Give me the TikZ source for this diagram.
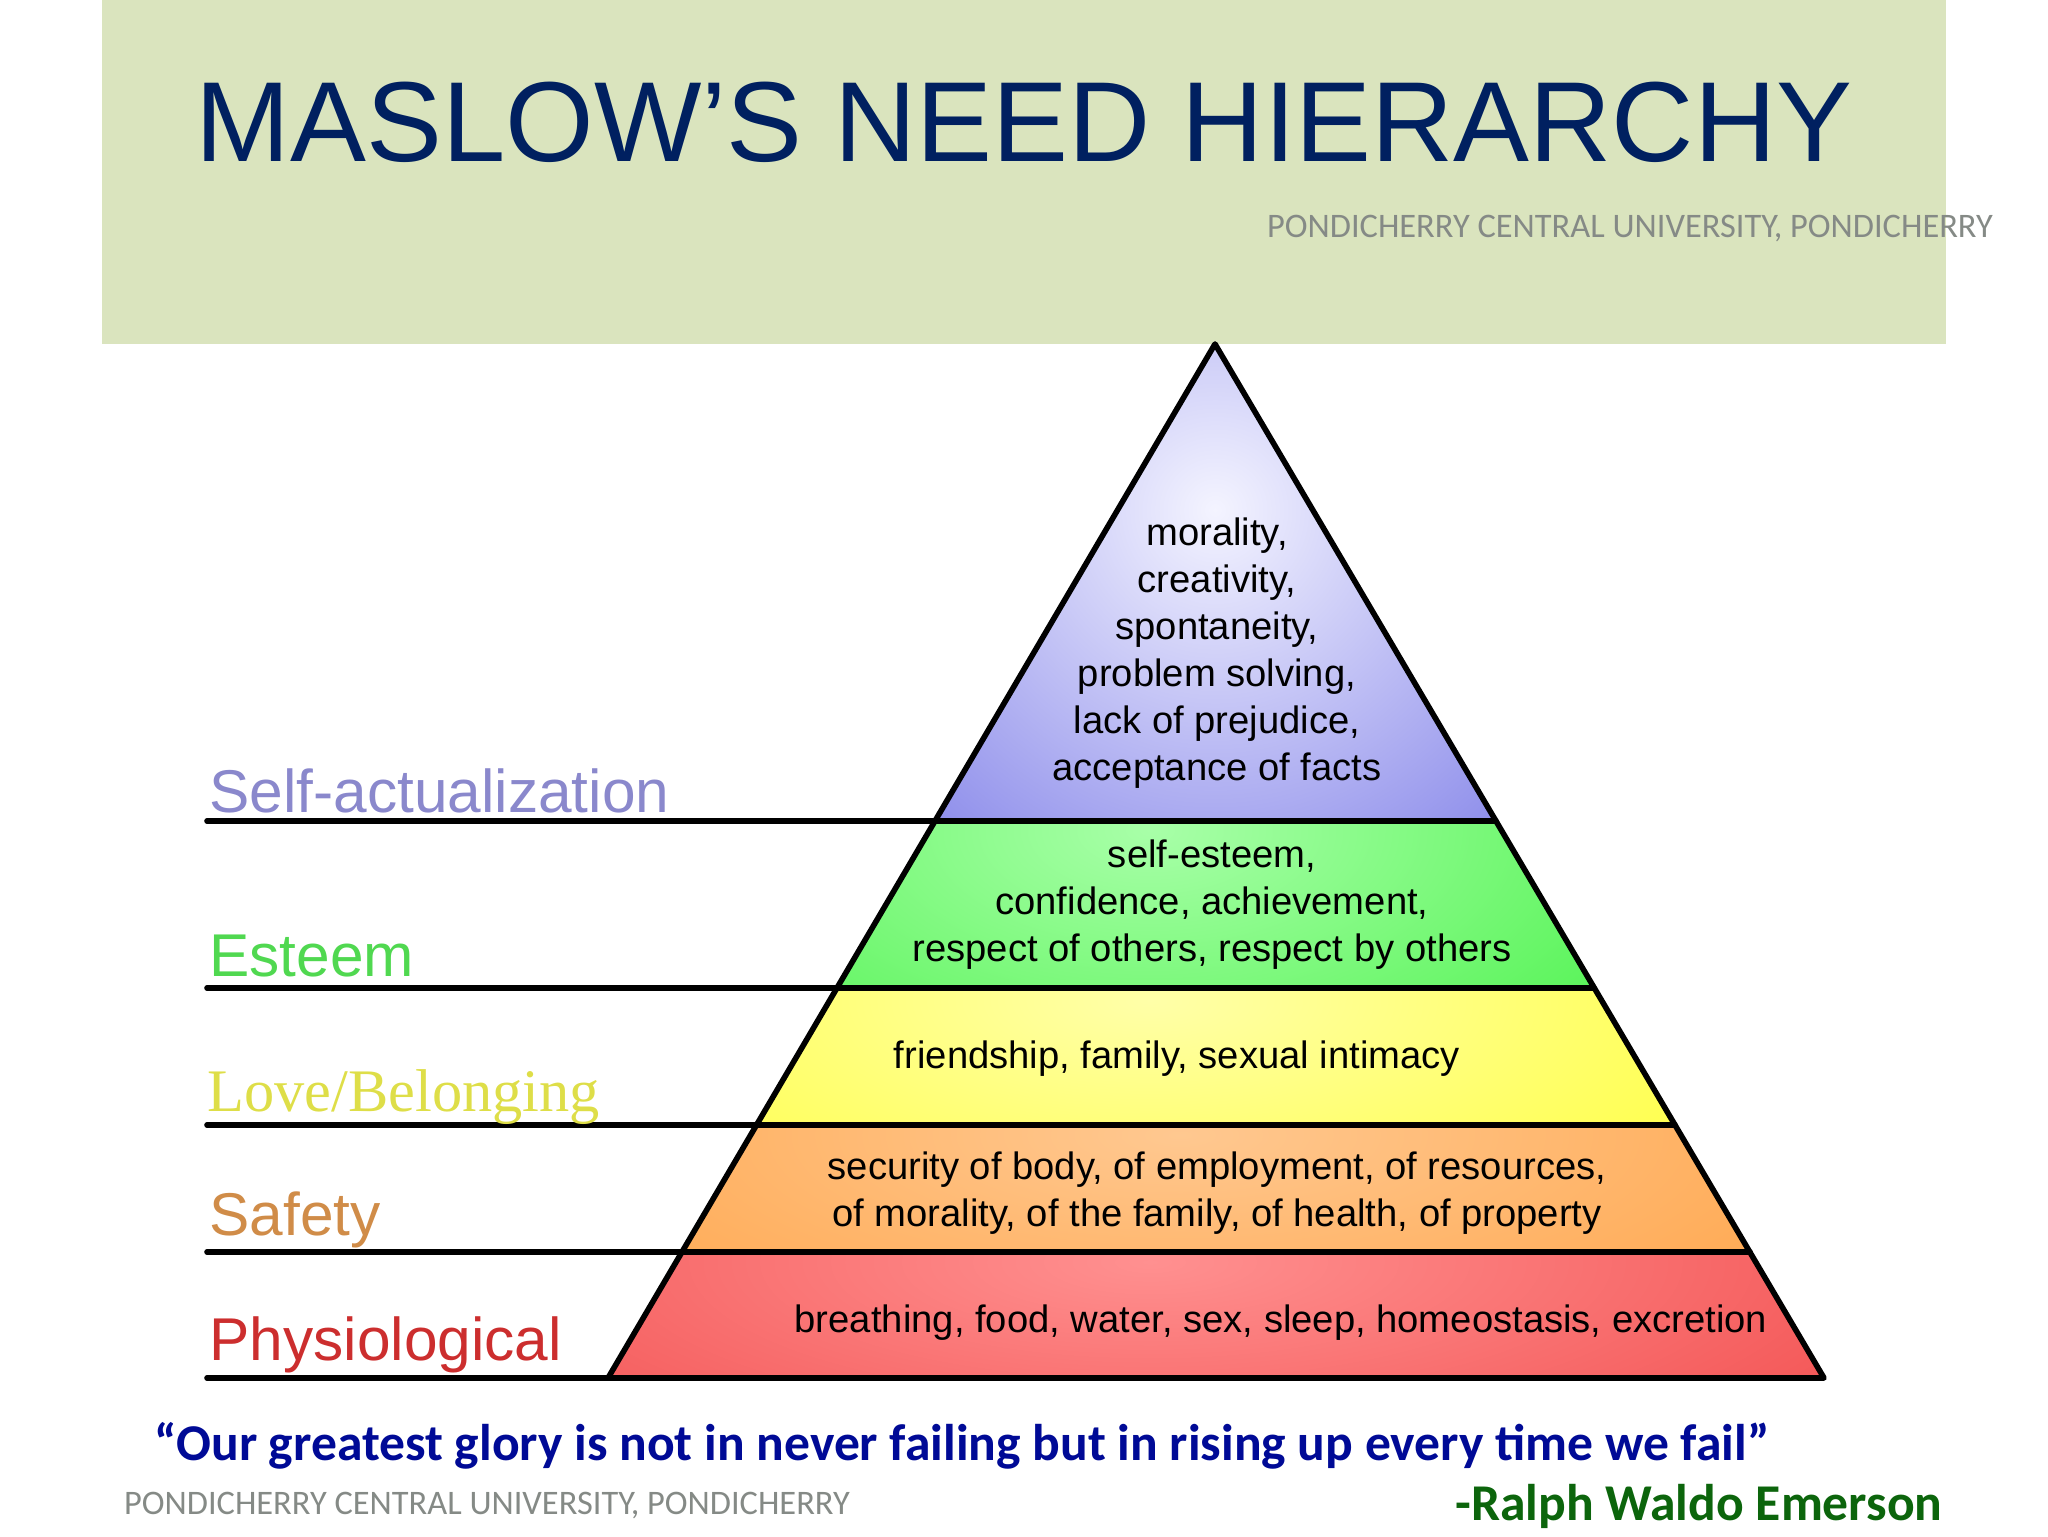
\documentclass[tikz,border=0pt]{standalone}
\usepackage{fontspec}
\setmainfont{Liberation Sans}
\newfontfamily\calibrifont{Carlito}
\newfontfamily\timesfont{Liberation Serif}
\definecolor{headgreen}{HTML}{DAE4BE}
\definecolor{titleblue}{HTML}{002060}
\definecolor{footgray}{HTML}{858A86}
\definecolor{quoteblue}{HTML}{000A96}
\definecolor{namegreen}{HTML}{0C650C}
\definecolor{tierblue}{HTML}{8A88CC}
\definecolor{tiergreen}{HTML}{50D850}
\definecolor{tieryellow}{HTML}{DEDE48}
\definecolor{tierorange}{HTML}{D08C48}
\definecolor{tierred}{HTML}{CC2E2E}
\definecolor{inblue}{HTML}{F4F4FF}
\definecolor{outblue}{HTML}{8080E8}
\definecolor{ingreen}{HTML}{A8FFA8}
\definecolor{outgreen}{HTML}{40F040}
\definecolor{inyellow}{HTML}{FFFFA8}
\definecolor{outyellow}{HTML}{FFFF30}
\definecolor{inorange}{HTML}{FFC890}
\definecolor{outorange}{HTML}{FFA040}
\definecolor{inred}{HTML}{FF9090}
\definecolor{outred}{HTML}{F04545}
\pgfdeclareradialshading{blueglow}{\pgfpoint{0bp}{0bp}}{color(0bp)=(inblue); color(14bp)=(outblue); color(50bp)=(outblue)}
\pgfdeclareradialshading{greenglow}{\pgfpoint{0bp}{0bp}}{color(0bp)=(ingreen); color(19bp)=(outgreen); color(50bp)=(outgreen)}
\pgfdeclareradialshading{yellowglow}{\pgfpoint{0bp}{0bp}}{color(0bp)=(inyellow); color(19bp)=(outyellow); color(50bp)=(outyellow)}
\pgfdeclareradialshading{orangeglow}{\pgfpoint{0bp}{0bp}}{color(0bp)=(inorange); color(19bp)=(outorange); color(50bp)=(outorange)}
\pgfdeclareradialshading{redglow}{\pgfpoint{0bp}{0bp}}{color(0bp)=(inred); color(19bp)=(outred); color(50bp)=(outred)}
\tikzset{
  level/.style={font=\fontsize{19.1}{23.5}\selectfont,align=center,inner sep=0pt},
  tier/.style={font=\fontsize{30.2}{36}\selectfont,anchor=base west,inner sep=0pt},
  foot/.style={font=\calibrifont\fontsize{17.2}{20}\selectfont,text=footgray,anchor=base,inner sep=0pt},
  rule/.style={line width=2.8pt,line cap=round,line join=round}
}
\begin{document}
\begin{tikzpicture}
  [x=0.5pt,y=-0.5pt]
  \useasboundingbox (0,0) rectangle (2048,1536);
  \fill[headgreen] (102,0) rectangle (1946,344);
  \node[font=\fontsize{56.9}{60}\selectfont,text=titleblue,anchor=base,inner sep=0pt] (title) at (1024,161) {MASLOW’S NEED HIERARCHY};
  \node[foot] (foottop) at (1630,237) {PONDICHERRY CENTRAL UNIVERSITY, PONDICHERRY};

  \coordinate (apex) at (1215,344);
  \coordinate (la) at (935,821);
  \coordinate (ra) at (1496,821);
  \coordinate (lb) at (837,988);
  \coordinate (rb) at (1594,988);
  \coordinate (lc) at (757,1125);
  \coordinate (rc) at (1675,1125);
  \coordinate (ld) at (682,1252);
  \coordinate (rd) at (1750,1252);
  \coordinate (le) at (608,1378);
  \coordinate (re) at (1824,1378);

  % bands
  \begin{scope}
    \clip (apex) -- (ra) -- (la) -- cycle;
    \shade[shading=blueglow] (1215,510) ellipse [x radius=860,y radius=860];
  \end{scope}
  \begin{scope}
    \clip (la) -- (ra) -- (rb) -- (lb) -- cycle;
    \shade[shading=greenglow] (1150,830) ellipse [x radius=960,y radius=500];
  \end{scope}
  \begin{scope}
    \clip (lb) -- (rb) -- (rc) -- (lc) -- cycle;
    \shade[shading=yellowglow] (1150,1000) ellipse [x radius=1120,y radius=440];
  \end{scope}
  \begin{scope}
    \clip (lc) -- (rc) -- (rd) -- (ld) -- cycle;
    \shade[shading=orangeglow] (1180,1135) ellipse [x radius=1240,y radius=400];
  \end{scope}
  \begin{scope}
    \clip (ld) -- (rd) -- (re) -- (le) -- cycle;
    \shade[shading=redglow] (1150,1262) ellipse [x radius=1400,y radius=420];
  \end{scope}

  \draw[rule] (apex) -- (re) -- (le) -- cycle;
  \draw[rule] (207,821) -- (ra);
  \draw[rule] (207,988) -- (rb);
  \draw[rule] (207,1125) -- (rc);
  \draw[rule] (207,1252) -- (rd);
  \draw[rule] (207,1378) -- (le);

  \node[level] (selfact) at (1217,653) {morality,\\creativity,\\spontaneity,\\problem solving,\\lack of prejudice,\\acceptance of facts};
  \node[level] (esteem) at (1212,905) {self-esteem,\\confidence, achievement,\\respect of others, respect by others};
  \node[level] (love) at (1177,1059) {friendship, family, sexual intimacy};
  \node[level] (safety) at (1217,1193) {security of body, of employment, of resources,\\of morality, of the family, of health, of property};
  \node[level] (physio) at (1281,1323) {breathing, food, water, sex, sleep, homeostasis, excretion};

  \node[tier,text=tierblue] (tselfact) at (209,812) {Self-actualization};
  \node[tier,text=tiergreen] (testeem) at (209,976) {Esteem};
  \node[tier,text=tieryellow,font=\timesfont\fontsize{30.2}{36}\selectfont] (tlove) at (207,1111) {Love/Belonging};
  \node[tier,text=tierorange] (tsafety) at (209,1235) {Safety};
  \node[tier,text=tierred] (tphysio) at (209,1360) {Physiological};

  \node[font=\calibrifont\bfseries\fontsize{25.8}{28}\selectfont,text=quoteblue,anchor=base,inner sep=0pt] (quote) at (962,1460) {“Our greatest glory is not in never failing but in rising up every time we fail”};
  \node[foot] (footbot) at (487,1514) {PONDICHERRY CENTRAL UNIVERSITY, PONDICHERRY};
  \node[font=\calibrifont\bfseries\fontsize{25.8}{28}\selectfont,text=namegreen,anchor=base,inner sep=0pt] (author) at (1699,1520) {-Ralph Waldo Emerson};
\end{tikzpicture}
\end{document}
